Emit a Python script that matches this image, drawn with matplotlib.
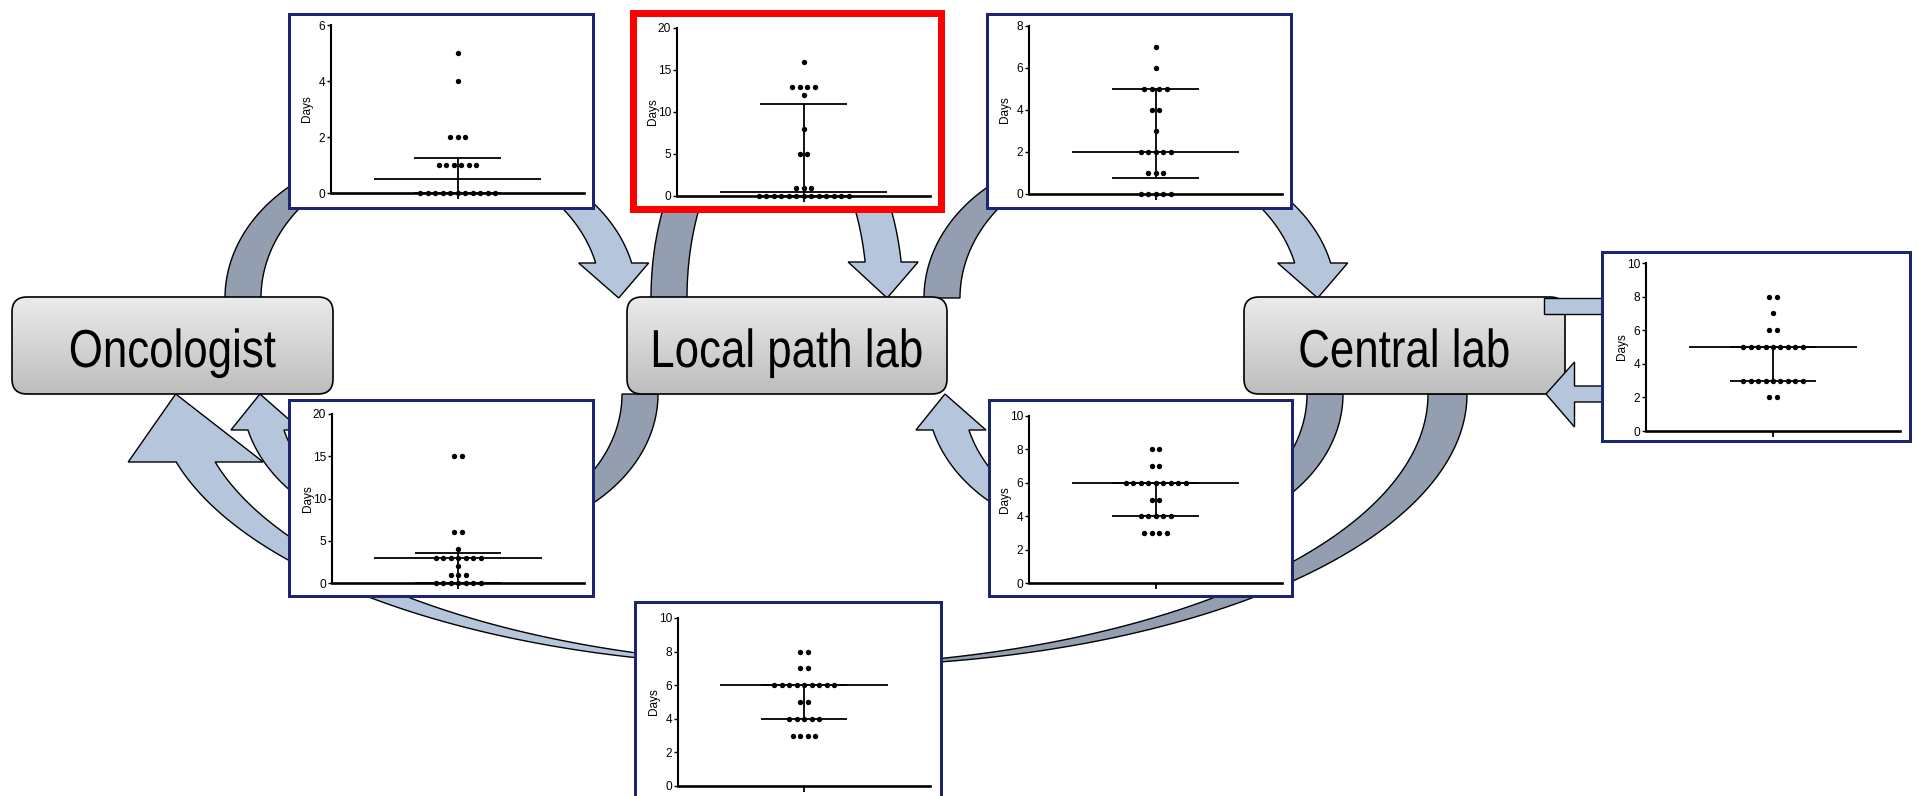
import numpy as np
import matplotlib
matplotlib.use("Agg")
import matplotlib.pyplot as plt
from matplotlib.patches import Polygon, Rectangle, FancyBboxPatch
from matplotlib.patheffects import AbstractPathEffect
from matplotlib.transforms import Affine2D

plt.rcParams['font.family'] = ['Liberation Sans', 'DejaVu Sans']

W, H = 1918, 796

# ---------------- data (days per case for each step) ----------------
onc_to_local = [0]*11 + [1]*6 + [2]*3 + [4, 5]
local_lab = [0]*13 + [1]*3 + [5]*2 + [8, 12] + [13]*4 + [16]
local_to_central = [0]*5 + [1]*3 + [2]*5 + [3] + [4]*2 + [5]*4 + [6, 7]
central_lab = [2]*2 + [3]*9 + [5]*9 + [6]*2 + [7] + [8]*2
local_to_onc = [0]*7 + [1]*3 + [2] + [3]*7 + [4] + [6]*2 + [15]*2
central_to_local = [3]*4 + [4]*5 + [5]*2 + [6]*9 + [7]*2 + [8]*2
central_to_onc = [3]*4 + [4]*5 + [5]*2 + [6]*9 + [7]*2 + [8]*2

series = [onc_to_local, local_lab, local_to_central, central_lab,
          local_to_onc, central_to_local, central_to_onc]
medians = [0.5, 0.5, 2, 5, 3, 6, 6]
lower_q = [0, 0, 0.75, 3, 0, 4, 4]
upper_q = [1.25, 11, 5, 5, 3.5, 6, 6]
y_max = [6, 20, 8, 10, 20, 10, 10]
y_step = [2, 5, 2, 2, 5, 2, 2]
node_names = ["Oncologist", "Local path lab", "Central lab"]

# ---------------- layout (pixels) ----------------
node_boxes = [(12, 297, 333, 394), (627, 297, 947, 394), (1244, 297, 1565, 394)]
frame_boxes = [(287, 12, 594, 209), (629, 9, 944, 212), (985, 12, 1292, 209),
               (1600, 250, 1911, 442), (287, 398, 594, 597), (987, 398, 1293, 597),
               (633, 600, 942, 812)]
frame_colors = ['#1c2570', '#ff0000', '#1c2570', '#1c2570', '#1c2570', '#1c2570', '#1c2570']
frame_px = [3, 7, 3, 3, 3, 3, 3]
axes_boxes = [(331, 584, 193, 25), (677, 930, 196, 28), (1029, 1282, 194, 26),
              (1646, 1900, 431, 263), (332, 584, 583, 414), (1029, 1282, 583, 416),
              (678, 930, 786, 618)]

DARK = '#939fb1'
LIGHT = '#b5c6dc'
PT = 72 / 100.0  # points per pixel


class HSqueeze(AbstractPathEffect):
    """Draw glyphs narrowed horizontally about a fixed display x."""

    def __init__(self, cx, sx):
        super().__init__()
        self.cx = cx
        self.sx = sx

    def draw_path(self, renderer, gc, tpath, affine, rgbFace=None):
        t = affine + Affine2D().translate(-self.cx, 0).scale(self.sx, 1).translate(self.cx, 0)
        renderer.draw_path(gc, tpath, t, rgbFace)


fig = plt.figure(figsize=(W / 100, H / 100), dpi=100)
fig.patch.set_facecolor('white')
ax = fig.add_axes([0, 0, 1, 1])
ax.set_xlim(0, W)
ax.set_ylim(H, 0)
ax.axis('off')


def ell(cx, cy, a, b, t0, t1, up, n=160):
    t = np.linspace(t0, t1, n)
    y = cy - b * np.sin(t) if up else cy + b * np.sin(t)
    return np.column_stack([cx + a * np.cos(t), y])


def curved_arrow(c1, cy, a, b, w, yb, flare, tip_dx, up, z=1):
    if up:
        te = np.arcsin((cy - yb) / b)
        dark = np.vstack([ell(c1, cy, a, b, np.pi, np.pi / 2, True),
                          ell(c1 + w, cy, a, b, np.pi / 2, np.pi, True)])
        xi = c1 + a * np.cos(te)
        xo = c1 + w + a * np.cos(te)
        head = np.array([[xi - flare, yb], [(xi + xo) / 2 + tip_dx, cy], [xo + flare, yb]])
        light = np.vstack([ell(c1, cy, a, b, np.pi / 2, te, True), head,
                           ell(c1 + w, cy, a, b, te, np.pi / 2, True)])
    else:
        te = np.pi - np.arcsin((yb - cy) / b)
        dark = np.vstack([ell(c1 + w, cy, a, b, 0, np.pi / 2, False),
                          ell(c1, cy, a, b, np.pi / 2, 0, False)])
        xo = c1 + a * np.cos(te)
        xi = c1 + w + a * np.cos(te)
        head = np.array([[xo - flare, yb], [(xi + xo) / 2 + tip_dx, cy], [xi + flare, yb]])
        light = np.vstack([ell(c1, cy, a, b, np.pi / 2, te, False), head,
                           ell(c1 + w, cy, a, b, te, np.pi / 2, False)])
    ax.add_patch(Polygon(dark, closed=True, facecolor=DARK, edgecolor='black',
                         lw=1.0, joinstyle='miter', zorder=z))
    ax.add_patch(Polygon(light, closed=True, facecolor=LIGHT, edgecolor='black',
                         lw=1.0, joinstyle='miter', zorder=z))


# flow arrows between the three sites
curved_arrow(792, 394, 636, 272, 39, 462, 48, -20, False, z=1)
curved_arrow(413, 298, 188, 148, 36, 263, 17, 5, True, z=1.5)
curved_arrow(759, 298, 108, 194, 36, 262, 17, 4, True, z=1.5)
curved_arrow(1112, 298, 188, 148, 36, 263, 17, 5, True, z=1.5)
curved_arrow(432, 394, 190, 145, 36, 430, 17, -6, False, z=1.5)
curved_arrow(1117, 394, 190, 145, 36, 430, 17, -6, False, z=1.5)

# site boxes with a soft vertical gradient
grad = np.linspace(0, 1, 256)[:, None]
top_c = np.array([0.925, 0.925, 0.925])
bot_c = np.array([0.74, 0.74, 0.74])
grad_img = top_c[None, None, :] * (1 - grad[:, :, None]) + bot_c[None, None, :] * grad[:, :, None]
for (x0, y0, x1, y1), name in zip(node_boxes, node_names):
    box = FancyBboxPatch((x0, y0), x1 - x0, y1 - y0,
                         boxstyle="round,pad=0,rounding_size=15",
                         facecolor='none', edgecolor='none', zorder=3)
    ax.add_patch(box)
    im = ax.imshow(grad_img, extent=(x0, x1, y1, y0), origin='upper',
                   aspect='auto', zorder=3, interpolation='bilinear')
    im.set_clip_path(box)
    ax.add_patch(FancyBboxPatch((x0, y0), x1 - x0, y1 - y0,
                                boxstyle="round,pad=0,rounding_size=15",
                                facecolor='none', edgecolor='black', lw=1.2, zorder=3.2))
    cx = (x0 + x1) / 2
    ax.text(cx, 367, name, ha='center', va='baseline', fontsize=38.5,
            color='black', zorder=3.3, path_effects=[HSqueeze(cx, 0.82)])

ax.set_xlim(0, W)
ax.set_ylim(H, 0)

# central lab <-> review loop on the right
ax.add_patch(Rectangle((1544, 298), 70, 16, facecolor=LIGHT, edgecolor='black',
                       lw=1.0, zorder=4))
ret = np.array([[1546, 394], [1574.5, 362], [1574.5, 386], [1614, 386],
                [1614, 402], [1574.5, 402], [1574.5, 427]])
ax.add_patch(Polygon(ret, closed=True, facecolor=LIGHT, edgecolor='black',
                     lw=1.0, joinstyle='miter', zorder=4))

# framed panels
for (x0, y0, x1, y1), col, lw in zip(frame_boxes, frame_colors, frame_px):
    ax.add_patch(Rectangle((x0 + lw / 2, y0 + lw / 2), x1 - x0 - lw, y1 - y0 - lw,
                           facecolor='white', edgecolor=col, lw=lw * PT,
                           joinstyle='miter', zorder=5))

# scatter panels: days per case with median and interquartile range
for i, vals in enumerate(series):
    L, R, yz, yt = axes_boxes[i]
    axp = fig.add_axes([L / W, 1 - yz / H, (R - L) / W, (yz - yt) / H])
    axp.patch.set_alpha(0)
    axp.set_xlim(0, 1)
    axp.set_ylim(0, y_max[i])
    for s in ('top', 'right'):
        axp.spines[s].set_visible(False)
    axp.spines['left'].set_linewidth(1.5)
    axp.spines['bottom'].set_linewidth(1.9)
    axp.set_yticks(np.arange(0, y_max[i] + 0.1, y_step[i]))
    axp.set_xticks([0.5])
    axp.set_xticklabels([])
    axp.tick_params(axis='y', length=3, width=1.0, labelsize=8.6, pad=1.2)
    axp.tick_params(axis='x', length=4, width=1.3)
    axp.set_ylabel('Days', fontsize=8.5)
    axp.yaxis.set_label_coords(-0.072, 0.5)

    dx = 7.5 / (R - L)
    vals = np.asarray(vals)
    xs, ys = [], []
    for v in np.unique(vals):
        n = int(np.sum(vals == v))
        xs.extend(0.5 + (np.arange(n) - (n - 1) / 2) * dx)
        ys.extend([v] * n)
    axp.scatter(xs, ys, s=15, color='black', linewidths=0, zorder=3, clip_on=False)

    axp.hlines(medians[i], 0.5 - 0.332, 0.5 + 0.332, color='black', lw=1.3, zorder=4)
    axp.hlines([lower_q[i], upper_q[i]], 0.5 - 0.17, 0.5 + 0.17, color='black',
               lw=1.3, zorder=4)
    axp.vlines(0.5, lower_q[i], upper_q[i], color='black', lw=1.3, zorder=4)

fig.savefig('out.png', dpi=100, facecolor='white')
